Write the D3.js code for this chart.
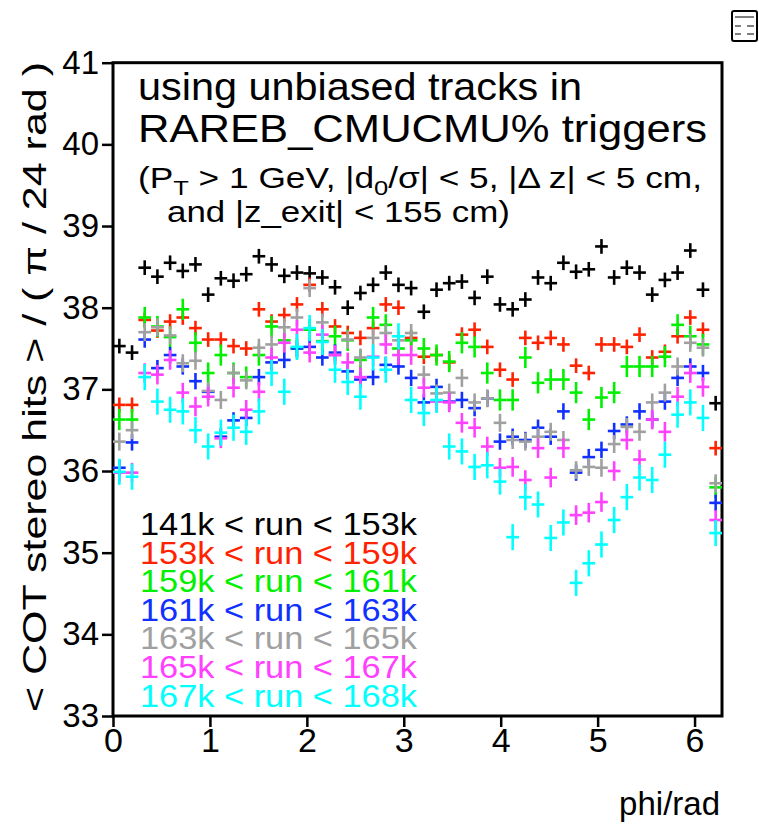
<!DOCTYPE html>
<html>
<head>
<meta charset="utf-8">
<script src="https://cdn.jsdelivr.net/npm/d3@7"></script>
<style>
  html, body { margin: 0; padding: 0; background: #fff; }
  svg { display: block; font-family: "Liberation Sans", Arial, Helvetica, sans-serif; }
</style>
</head>
<body>
<svg id="chart" width="759" height="828"></svg>
<script>
'use strict';

// run ranges (legend) and colours
var runRanges = ['141k < run < 153k', '153k < run < 159k', '159k < run < 161k',
                 '161k < run < 163k', '163k < run < 165k', '165k < run < 167k',
                 '167k < run < 168k'];
var seriesColors = ['#000000', '#ff2200', '#00f000', '#1030ff', '#a0a0a0', '#ff40ff', '#00ffff'];

// mean COT stereo hits per phi bin (48 bins of pi/24)
var hits141 = [37.53,37.45,38.49,38.38,38.55,38.45,38.53,38.16,38.36,38.33,38.41,38.63,38.53,38.39,38.43,38.42,
               38.37,38.25,38.00,38.18,38.28,38.43,38.28,38.24,37.95,38.22,38.30,38.32,38.12,38.38,38.04,37.98,
               38.10,38.37,38.30,38.55,38.44,38.47,38.75,38.37,38.49,38.43,38.16,38.34,38.43,38.70,38.22,36.83];
var hits153 = [36.81,36.81,37.85,37.72,37.83,37.88,37.75,37.61,37.61,37.53,37.50,37.98,37.83,37.91,38.04,38.28,
               37.98,37.77,37.69,37.63,37.75,38.04,38.00,37.63,37.40,37.42,37.33,37.67,37.73,37.52,37.24,37.12,
               37.63,37.57,37.63,37.55,37.29,37.20,37.55,37.55,37.52,37.67,37.39,37.46,37.65,37.88,37.73,36.28];
var hits159 = [36.63,36.63,37.88,37.77,37.64,37.98,37.57,37.20,37.42,37.20,37.15,37.42,37.77,37.60,37.50,37.73,
               37.59,37.65,37.60,37.36,37.88,37.79,37.50,37.60,37.50,37.42,37.34,37.57,37.52,37.20,36.87,36.87,
               37.39,37.08,37.12,37.12,36.96,36.63,36.90,36.96,37.28,37.28,37.28,37.40,37.79,37.65,37.55,35.80];
var hits161 = [36.04,36.35,37.61,37.26,37.42,37.28,37.10,36.97,36.42,36.62,36.65,37.15,37.33,37.36,37.50,37.52,
               37.39,37.45,37.22,37.12,37.15,37.30,37.28,37.14,36.84,37.03,36.85,36.87,36.77,36.89,36.36,36.42,
               36.38,36.53,36.42,36.73,35.98,36.17,36.26,36.49,36.57,36.73,36.63,36.85,37.14,37.28,37.20,35.61];
var hits163 = [36.36,36.50,37.70,37.76,37.66,37.32,37.35,36.98,36.87,37.20,37.11,37.51,37.55,37.76,37.88,38.24,
               37.82,37.42,37.61,37.39,37.63,37.69,37.60,37.69,37.18,36.95,36.96,37.14,36.84,36.89,36.59,36.38,
               36.36,36.42,36.48,36.38,36.01,36.05,36.04,36.33,36.54,36.48,36.84,36.96,37.28,37.57,37.51,35.85];
var hits165 = [35.98,35.98,37.20,37.18,37.36,36.96,36.79,36.91,36.40,37.02,36.75,36.97,37.39,37.57,37.73,37.45,
               37.67,37.42,37.33,37.15,37.40,37.55,37.42,37.42,37.02,36.85,36.84,36.59,36.53,36.30,36.04,36.05,
               35.89,36.28,35.92,36.28,35.46,35.49,35.62,36.00,36.38,36.14,36.63,36.48,36.91,37.20,37.03,35.40];
var hits167 = [35.99,35.93,37.15,36.85,36.75,36.73,36.50,36.30,36.47,36.53,36.48,36.73,37.20,36.97,37.52,37.75,
               37.58,37.24,37.09,36.91,37.39,37.24,37.65,36.87,36.71,36.87,36.30,36.24,36.05,36.07,35.87,35.19,
               35.68,35.59,35.18,35.37,34.63,34.87,35.10,35.40,35.68,35.92,35.89,36.20,36.69,36.84,36.65,35.24];
var allHits = [hits141, hits153, hits159, hits161, hits163, hits165, hits167];

// typical error on the mean, per run range
var hitErrors = [0.09, 0.09, 0.13, 0.10, 0.11, 0.12, 0.16];

var yTicks = [33, 34, 35, 36, 37, 38, 39, 40, 41];
var xTicks = [0, 1, 2, 3, 4, 5, 6];

var binWidth = Math.PI / 24;

var svg = d3.select('#chart');

var x = d3.scaleLinear().domain([0, 2 * Math.PI]).range([113, 722]);
var y = d3.scaleLinear().domain([33, 41]).range([716, 62.7]);

// axes
var yAxis = d3.axisLeft(y).tickValues(yTicks).tickFormat(d3.format('d'))
    .tickSize(11).tickSizeOuter(0).tickPadding(3);
var gy = svg.append('g').attr('transform', 'translate(113,0)').call(yAxis);
gy.select('.domain').remove();
gy.selectAll('line').attr('stroke', '#000').attr('stroke-width', 2.5);
gy.selectAll('text').attr('font-size', 33).attr('fill', '#000');

var xAxis = d3.axisBottom(x).tickValues(xTicks).tickFormat(d3.format('d'))
    .tickSize(11).tickSizeOuter(0).tickPadding(1);
var gx = svg.append('g').attr('transform', 'translate(0,716)').call(xAxis);
gx.select('.domain').remove();
gx.selectAll('line').attr('stroke', '#000').attr('stroke-width', 2.5);
gx.selectAll('text').attr('font-size', 34).attr('fill', '#000');

// frame
svg.append('rect')
    .attr('x', x(0)).attr('y', y(41))
    .attr('width', x(2 * Math.PI) - x(0))
    .attr('height', y(33) - y(41))
    .attr('fill', 'none')
    .attr('stroke', '#000')
    .attr('stroke-width', 3);

// error-bar crosses
allHits.forEach(function(vals, s) {
    var g = svg.append('g')
        .attr('stroke', seriesColors[s])
        .attr('stroke-width', 2.6);
    var pts = g.selectAll('g.pt')
        .data(vals)
        .enter()
        .append('g')
        .attr('class', 'pt');
    pts.append('line')
        .attr('x1', function(d, i) { return x(i * binWidth); })
        .attr('x2', function(d, i) { return x((i + 1) * binWidth); })
        .attr('y1', function(d) { return y(d); })
        .attr('y2', function(d) { return y(d); });
    pts.append('line')
        .attr('x1', function(d, i) { return x((i + 0.5) * binWidth); })
        .attr('x2', function(d, i) { return x((i + 0.5) * binWidth); })
        .attr('y1', function(d) { return y(d - hitErrors[s]); })
        .attr('y2', function(d) { return y(d + hitErrors[s]); });
});

// title text
svg.append('text')
    .attr('x', 138).attr('y', 100)
    .attr('font-size', 39)
    .attr('textLength', 444).attr('lengthAdjust', 'spacingAndGlyphs')
    .text('using unbiased tracks in');
svg.append('text')
    .attr('x', 138).attr('y', 142)
    .attr('font-size', 39)
    .attr('textLength', 569).attr('lengthAdjust', 'spacingAndGlyphs')
    .text('RAREB_CMUCMU% triggers');

var line3 = svg.append('text')
    .attr('x', 138).attr('y', 188)
    .attr('font-size', 29)
    .attr('textLength', 564).attr('lengthAdjust', 'spacingAndGlyphs');
line3.append('tspan').text('(P');
line3.append('tspan').attr('font-size', 21).attr('dy', 7).text('T');
line3.append('tspan').attr('dy', -7).text(' > 1 GeV, |d');
line3.append('tspan').attr('font-size', 21).attr('dy', 7).text('0');
line3.append('tspan').attr('dy', -7).text('/\u03c3| < 5, |\u0394 z| < 5 cm,');

svg.append('text')
    .attr('x', 167).attr('y', 222)
    .attr('font-size', 29)
    .attr('textLength', 343).attr('lengthAdjust', 'spacingAndGlyphs')
    .text('and |z_exit| < 155 cm)');

// legend
svg.append('g').selectAll('text')
    .data(runRanges)
    .enter()
    .append('text')
    .attr('x', 140)
    .attr('y', function(d, i) { return 535 + i * 28.6; })
    .attr('font-size', 31)
    .attr('textLength', 277).attr('lengthAdjust', 'spacingAndGlyphs')
    .attr('fill', function(d, i) { return seriesColors[i]; })
    .text(function(d) { return d; });

// axis titles
svg.append('text')
    .attr('transform', 'translate(46,712) rotate(-90)')
    .attr('font-size', 33)
    .attr('textLength', 650).attr('lengthAdjust', 'spacingAndGlyphs')
    .text('< COT stereo hits > / (  \u03c0 / 24 rad )');

svg.append('text')
    .attr('x', 720).attr('y', 815)
    .attr('text-anchor', 'end')
    .attr('font-size', 33)
    .text('phi/rad');

// little stats-box icon in the corner
var icon = svg.append('g').attr('transform', 'translate(732,11)');
icon.append('rect')
    .attr('width', 25).attr('height', 30).attr('rx', 2)
    .attr('fill', '#fff').attr('stroke', '#000').attr('stroke-width', 2);
[[3, 6, 22], [3, 15, 9], [15, 15, 22], [3, 23, 9], [15, 23, 22]].forEach(function(l) {
    icon.append('line')
        .attr('x1', l[0]).attr('x2', l[2]).attr('y1', l[1]).attr('y2', l[1])
        .attr('stroke', '#555').attr('stroke-width', 1.5);
});
</script>
</body>
</html>
